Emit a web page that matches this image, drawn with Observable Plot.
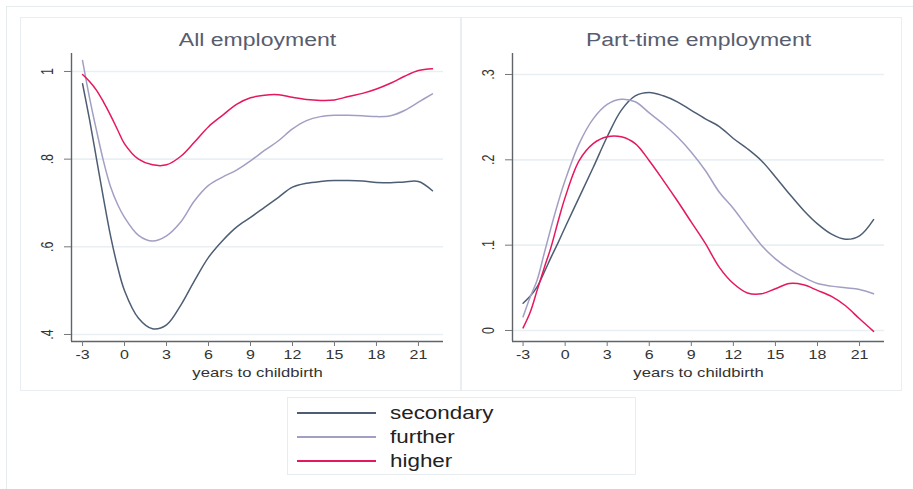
<!DOCTYPE html>
<html>
<head>
<meta charset="utf-8">
<script src="https://cdn.jsdelivr.net/npm/d3@7"></script>
<script src="https://cdn.jsdelivr.net/npm/@observablehq/plot@0.6"></script>
<style>
  html, body { margin: 0; padding: 0; background: #fff; }
  #wrap { position: relative; width: 913px; height: 489px; overflow: hidden; background: #fff;
          font-family: "Liberation Sans", Arial, Helvetica, sans-serif; }
  .outer { position: absolute; left: 6px; top: 6px; width: 920px; height: 500px; border: 1px solid #e6ebee; box-sizing: border-box; }
  .panel { position: absolute; top: 17px; width: 441px; height: 374px; border: 1px solid #e8eef1; box-sizing: border-box; }
  .plotbox { position: absolute; top: 17px; width: 441px; height: 374px; }
  .legend { position: absolute; left: 287px; top: 397px; width: 349px; height: 78px; border: 1px solid #e6ecef; box-sizing: border-box; }
  .lrow { position: absolute; left: 0; height: 24px; width: 100%; }
  .lline { position: absolute; left: 9px; width: 79px; top: 11px; height: 0; border-top: 2px solid; }
  .ltext { position: absolute; left: 102px; top: 0; line-height: 24px; font-size: 17.5px; color: #222;
           transform: scaleX(1.28); transform-origin: left center; white-space: nowrap; }
</style>
</head>
<body>
<div id="wrap">
  <div class="outer"></div>
  <div class="panel" style="left:20px"></div>
  <div class="panel" style="left:461px"></div>
  <div class="plotbox" id="left" style="left:20px"></div>
  <div class="plotbox" id="right" style="left:461px"></div>
  <div class="legend" id="legend"></div>
</div>
<script>
// ---- data ----
const years = [-3, -2.5, -2, -1.5, -1, -0.5, 0, 1, 2, 3, 4, 5, 6, 7, 8, 9, 10, 11, 12, 13, 14, 15, 16, 17, 18, 19, 20, 21, 22];
const seriesNames = ["secondary", "further", "higher"];
const seriesColors = ["#4d5d73", "#a29fc4", "#e6175c"];

const allSecondary = [0.972, 0.89, 0.80, 0.71, 0.625, 0.555, 0.50, 0.437, 0.413, 0.422, 0.466, 0.523, 0.576, 0.614, 0.645, 0.667, 0.690, 0.713, 0.736, 0.745, 0.749, 0.751, 0.751, 0.750, 0.747, 0.746, 0.748, 0.749, 0.728];
const allFurther   = [1.025, 0.94, 0.865, 0.795, 0.737, 0.697, 0.667, 0.626, 0.613, 0.625, 0.656, 0.705, 0.740, 0.759, 0.775, 0.796, 0.820, 0.842, 0.869, 0.888, 0.897, 0.900, 0.900, 0.899, 0.897, 0.899, 0.911, 0.930, 0.949];
const allHigher    = [0.993, 0.977, 0.957, 0.93, 0.90, 0.867, 0.835, 0.800, 0.787, 0.787, 0.806, 0.839, 0.874, 0.900, 0.925, 0.940, 0.946, 0.947, 0.941, 0.936, 0.934, 0.935, 0.943, 0.950, 0.960, 0.973, 0.989, 1.002, 1.006];

const ptSecondary = [0.032, 0.040, 0.051, 0.068, 0.086, 0.103, 0.121, 0.156, 0.191, 0.227, 0.258, 0.275, 0.279, 0.275, 0.268, 0.258, 0.248, 0.239, 0.225, 0.213, 0.199, 0.180, 0.160, 0.141, 0.125, 0.113, 0.107, 0.111, 0.130];
const ptFurther   = [0.016, 0.039, 0.059, 0.09, 0.121, 0.150, 0.176, 0.219, 0.248, 0.265, 0.271, 0.268, 0.255, 0.242, 0.227, 0.209, 0.1875, 0.162, 0.143, 0.121, 0.100, 0.084, 0.072, 0.0625, 0.055, 0.052, 0.050, 0.048, 0.043];
const ptHigher    = [0.003, 0.021, 0.047, 0.073, 0.098, 0.128, 0.156, 0.199, 0.219, 0.227, 0.227, 0.219, 0.199, 0.176, 0.152, 0.127, 0.102, 0.074, 0.055, 0.044, 0.043, 0.049, 0.055, 0.0535, 0.047, 0.040, 0.029, 0.0137, -0.001];

const xTicks = [-3, 0, 3, 6, 9, 12, 15, 18, 21];
const allYTicks = [0.4, 0.6, 0.8, 1];
const ptYTicks = [0, 0.1, 0.2, 0.3];
const allXDomain = [-3.79, 22.79];
const allYDomain = [0.384, 1.041];
const ptXDomain = [-3.755, 22.78];
const ptYDomain = [-0.0129, 0.3246];
const xLabel = "years to childbirth";

const STRETCH = 1.28;
const fontFamily = '"Liberation Sans", Arial, Helvetica, sans-serif';

function tidy(arrs) {
  const out = [];
  arrs.forEach((arr, k) => arr.forEach((v, i) => out.push({year: years[i], value: v, series: seriesNames[k]})));
  return out;
}
const stataFmt = d => d === 0 ? "0" : d === 1 ? "1" : String(+d.toFixed(2)).replace(/^0\./, ".").replace(/^-0\./, "-.");
const xFmt = d => String(d);

function stretchTexts(svg, s) {
  svg.querySelectorAll("text").forEach(t => {
    const tr = t.getAttribute("transform");
    if (tr && /^\s*translate\(/.test(tr)) {
      t.setAttribute("transform", tr.replace(/^\s*(translate\([^)]*\))/, `$1 scale(${s},1)`));
    } else {
      const x = +(t.getAttribute("x") || 0), y = +(t.getAttribute("y") || 0);
      t.removeAttribute("x"); t.removeAttribute("y");
      t.setAttribute("transform", `translate(${x},${y}) scale(${s},1)${tr ? " " + tr : ""}`);
    }
  });
}

function panel(title, data, xDomain, yDomain, yTicks) {
  const svg = Plot.plot({
    width: 441, height: 374,
    marginLeft: 51, marginRight: 18, marginTop: 36, marginBottom: 50,
    style: {fontFamily, fontSize: "12.5px", color: "#333", background: "transparent", overflow: "visible"},
    x: {domain: xDomain},
    y: {domain: yDomain},
    color: {domain: seriesNames, range: seriesColors},
    marks: [
      Plot.gridY(yTicks, {stroke: "#e9eff3", strokeOpacity: 1, strokeWidth: 1.6}),
      Plot.ruleX([xDomain[0]], {stroke: "#606468", strokeWidth: 1.4}),
      Plot.ruleY([yDomain[0]], {stroke: "#606468", strokeWidth: 1.4}),
      Plot.axisY(yTicks, {tickSize: 7, tickPadding: 12, tickRotate: -90, tickFormat: stataFmt, stroke: "#777", label: null}),
      Plot.axisX(xTicks, {tickSize: 5, tickPadding: 4, tickFormat: xFmt, stroke: "#777", label: null}),
      Plot.line(data, {x: "year", y: "value", z: "series", stroke: "series", strokeWidth: 1.5, curve: "catmull-rom"}),
      Plot.text([title], {frameAnchor: "top", dy: -13, lineAnchor: "middle", fontSize: 18, fill: "#585d6e"}),
      Plot.text([xLabel], {frameAnchor: "bottom", dy: 31, lineAnchor: "middle", fontSize: 13, fill: "#333"})
    ]
  });
  stretchTexts(svg, STRETCH);
  return svg;
}

document.getElementById("left").appendChild(
  panel("All employment", tidy([allSecondary, allFurther, allHigher]), allXDomain, allYDomain, allYTicks));
document.getElementById("right").appendChild(
  panel("Part-time employment", tidy([ptSecondary, ptFurther, ptHigher]), ptXDomain, ptYDomain, ptYTicks));

// legend
const leg = document.getElementById("legend");
seriesNames.forEach((name, i) => {
  const row = document.createElement("div");
  row.className = "lrow";
  row.style.top = (3 + i * 24) + "px";
  row.innerHTML = `<div class="lline" style="border-color:${seriesColors[i]}"></div><div class="ltext">${name}</div>`;
  leg.appendChild(row);
});
</script>
</body>
</html>
